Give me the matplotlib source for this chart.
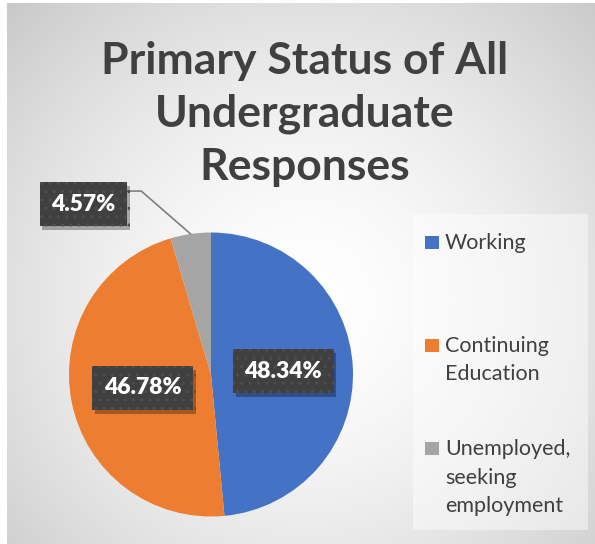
import numpy as np
import matplotlib
matplotlib.use("Agg")
import matplotlib.pyplot as plt
import matplotlib.patheffects as pe
from matplotlib.patches import Rectangle

# ---- data ----
title = "Primary Status of All\nUndergraduate\nResponses"
categories = ["Working", "Continuing\nEducation", "Unemployed,\nseeking\nemployment"]
values = [48.34, 46.78, 4.57]
colors = ["#4472C4", "#ED7D31", "#A5A5A5"]

W, H = 595, 544
fig = plt.figure(figsize=(W / 100, H / 100), dpi=100)
fig.patch.set_facecolor("white")

def fx(px):
    return px / W

def fy(py):
    return 1 - py / H

# ---- radial gradient background ----
bg = fig.add_axes([fx(7), 0, 1 - fx(7), fy(3)])
bg.set_axis_off()
yy, xx = np.mgrid[0:541, 0:588]
cx, cy = 300, 300
d = np.sqrt((xx - cx) ** 2 + (yy - cy) ** 2) / 420.0
d = np.clip(d, 0, 1)
shade = 1.0 - 0.21 * d ** 1.6
img = np.dstack([shade, shade, shade])
bg.imshow(img, aspect="auto", extent=[0, 1, 0, 1], interpolation="bilinear")
bg.set_xlim(0, 1)
bg.set_ylim(0, 1)

# ---- pie ----
cxp, cyp, r = 211, 374.5, 142
ax = fig.add_axes([fx(cxp - r), fy(cyp + r), (2 * r) / W, (2 * r) / H])
wedges, _ = ax.pie(values, colors=colors, startangle=90, counterclock=False,
                   wedgeprops=dict(linewidth=0))
ax.set_xlim(-1, 1)
ax.set_ylim(-1, 1)
ax.set_aspect("equal")
ax.set_axis_off()

label_kw = dict(fontsize=16.5, fontweight="heavy", color="white", family=["Lato", "DejaVu Sans"],
                ha="center", va="center",
                bbox=dict(boxstyle="square,pad=0.5", facecolor="#404040",
                          edgecolor="#4e4e4e", hatch="..", linewidth=0))

inside_dist = [0.51, 0.49, None]
outside_pos = [None, None, (-0.90, 1.20)]
leader_start = (-0.606, 1.292)
for i, (w, v) in enumerate(zip(wedges, values)):
    mid = np.deg2rad((w.theta1 + w.theta2) / 2)
    txt = f"{v:.2f}%"
    if inside_dist[i] is not None:
        dist = inside_dist[i]
        t = ax.text(dist * np.cos(mid), dist * np.sin(mid), txt, **label_kw)
    else:
        ex, ey = np.cos(mid), np.sin(mid)
        ax.annotate("", xy=(ex, ey), xytext=leader_start,
                    arrowprops=dict(arrowstyle="-", color="#7f7f7f", lw=1.2,
                                    connectionstyle="angle,angleA=0,angleB=139,rad=0",
                                    shrinkA=0, shrinkB=0),
                    annotation_clip=False)
        t = ax.text(outside_pos[i][0], outside_pos[i][1], txt, **label_kw)
    t.get_bbox_patch().set_path_effects([
        pe.SimplePatchShadow(offset=(2, -3), shadow_rgbFace="black", alpha=0.3),
        pe.Normal()])

# ---- title ----
fig.text(fx(305), fy(114), title, ha="center", va="center", fontsize=32,
         fontweight="bold", color="#404040", family=["Lato", "DejaVu Sans"],
         linespacing=1.38)

# ---- legend box ----
fig.patches.append(Rectangle((fx(413), fy(530)), fx(588) - fx(413), fy(214) - fy(530),
                             transform=fig.transFigure, facecolor="white", alpha=0.45,
                             edgecolor="none"))
leg_base = [249, 352, 455]
line_step = 28.5
for lab, col, y in zip(categories, colors, leg_base):
    fig.patches.append(Rectangle((fx(425), fy(y)), 14 / W, 13 / H,
                                 transform=fig.transFigure, facecolor=col, edgecolor="none"))
    for k, line in enumerate(lab.split("\n")):
        fig.text(fx(445), fy(y + k * line_step), line, ha="left", va="baseline",
                 fontsize=15.5, color="#404040", family=["Lato", "DejaVu Sans"])

fig.savefig("out.png", dpi=100, facecolor=fig.get_facecolor())
